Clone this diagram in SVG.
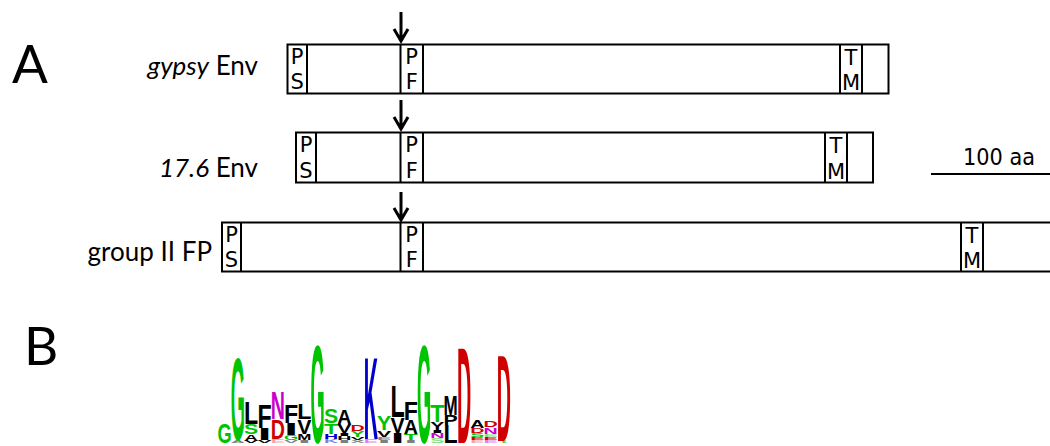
<svg xmlns="http://www.w3.org/2000/svg" width="1050" height="446" viewBox="0 0 1050 446">
  <style>
    .box { fill: #fff; stroke: #000; stroke-width: 2; }
    .div { stroke: #000; stroke-width: 2; fill: none; }
    .dom { font-family: "DejaVu Sans", Verdana, sans-serif; font-size: 21px; fill: #000; text-anchor: middle; }
    .lbl { font-family: Lato, "Liberation Sans", sans-serif; font-size: 26px; fill: #000; text-anchor: end; }
    .panel { font-family: Lato, "Liberation Sans", sans-serif; font-size: 53px; fill: #000; }
    .scale { font-family: "DejaVu Sans", Verdana, sans-serif; font-size: 23px; fill: #000; }
    .arrow { stroke: #000; stroke-width: 3; fill: none; stroke-linecap: butt; }
    .lg { font-family: "Liberation Sans", Arial, sans-serif; font-weight: bold; font-size: 10px; }
    .k { fill: #000; }
    .g { fill: #00c400; }
    .r { fill: #d00000; }
    .b { fill: #0000cc; }
    .m { fill: #cc00cc; }
    .p { fill: #d00000; opacity: 0.35; }
    .pg { fill: #00c400; opacity: 0.5; }
    .pb { fill: #0000cc; opacity: 0.5; }
    .pm { fill: #cc00cc; opacity: 0.5; }
    .pk { fill: #000; opacity: 0.5; }
  </style>

  <!-- panel letters -->
  <text class="panel" x="12" y="83">A</text>
  <text class="panel" x="24" y="365">B</text>

  <!-- gypsy Env -->
  <g id="gypsy-env">
    <text class="lbl" x="258" y="75"><tspan font-style="italic">gypsy</tspan> Env</text>
    <rect class="box" x="287.5" y="44.5" width="601" height="49"/>
    <path class="div" d="M307 44.5V93.5M400.5 44.5V93.5M423 44.5V93.5M840 44.5V93.5M862 44.5V93.5"/>
    <text class="dom" x="297.2" y="63.5">P</text><text class="dom" x="297.2" y="89">S</text>
    <text class="dom" x="411.7" y="63.5">P</text><text class="dom" x="411.7" y="89">F</text>
    <text class="dom" x="851" y="64.5">T</text><text class="dom" x="851" y="90">M</text>
  </g>

  <!-- 17.6 Env -->
  <g id="env-17-6">
    <text class="lbl" x="258" y="177"><tspan font-style="italic">17.6</tspan> Env</text>
    <rect class="box" x="296" y="132.5" width="577" height="50"/>
    <path class="div" d="M316 132.5V182.5M400.5 132.5V182.5M423 132.5V182.5M825 132.5V182.5M847 132.5V182.5"/>
    <text class="dom" x="306" y="152">P</text><text class="dom" x="306" y="177.5">S</text>
    <text class="dom" x="411.7" y="152">P</text><text class="dom" x="411.7" y="177.5">F</text>
    <text class="dom" x="836" y="153">T</text><text class="dom" x="836" y="178.5">M</text>
  </g>

  <!-- group II FP -->
  <g id="group-ii-fp">
    <text class="lbl" x="212" y="261">group II FP</text>
    <rect class="box" x="222" y="222.5" width="840" height="49"/>
    <path class="div" d="M241 222.5V271.5M400.5 222.5V271.5M423 222.5V271.5M961 222.5V271.5M983 222.5V271.5"/>
    <text class="dom" x="231.5" y="241.5">P</text><text class="dom" x="231.5" y="267">S</text>
    <text class="dom" x="411.7" y="241.5">P</text><text class="dom" x="411.7" y="267">F</text>
    <text class="dom" x="972" y="242.5">T</text><text class="dom" x="972" y="268">M</text>
  </g>

  <!-- scale bar -->
  <g id="scale-bar">
    <text class="scale" x="963" y="165" textLength="72" lengthAdjust="spacingAndGlyphs">100 aa</text>
    <line class="div" x1="931" y1="174" x2="1050" y2="174"/>
  </g>

  <!-- cleavage-site pointers -->
  <g id="connectors">
    <path class="arrow" d="M401 12V41M394 29L401 41L408 29"/>
    <path class="arrow" d="M401 100V129M394 117L401 129L408 117"/>
    <path class="arrow" d="M401 192V220M394 208L401 220L408 208"/>
  </g>

  <!-- sequence logo: stacked letters, each scaled to its share of the column -->
  <g id="logo" class="lg" transform="translate(-0.8 0)">
    <!-- col 1 -->
    <text class="g" textLength="14.2" lengthAdjust="spacingAndGlyphs" transform="translate(218.3,443) scale(1,2.793)">G</text>
    <!-- col 2 -->
    <text class="pk" textLength="14.2" lengthAdjust="spacingAndGlyphs" transform="translate(231.6,443) scale(1,0.419)">A</text>
    <text class="g" textLength="14.2" lengthAdjust="spacingAndGlyphs" transform="translate(231.6,440) scale(1,11.592)">G</text>
    <!-- col 3 -->
    <text class="k" textLength="14.2" lengthAdjust="spacingAndGlyphs" transform="translate(244.9,443) scale(1,0.279)">V</text>
    <text class="k" textLength="14.2" lengthAdjust="spacingAndGlyphs" transform="translate(244.9,441) scale(1,0.978)">A</text>
    <text class="g" textLength="14.2" lengthAdjust="spacingAndGlyphs" transform="translate(244.9,434) scale(1,1.397)">S</text>
    <text class="k" textLength="14.2" lengthAdjust="spacingAndGlyphs" transform="translate(244.9,424) scale(1,3.073)">L</text>
    <!-- col 4 -->
    <text class="k" textLength="14.2" lengthAdjust="spacingAndGlyphs" transform="translate(258.2,443) scale(1,0.419)">V</text>
    <text class="k" textLength="14.2" lengthAdjust="spacingAndGlyphs" transform="translate(258.2,440) scale(1,1.676)">I</text>
    <text class="k" textLength="14.2" lengthAdjust="spacingAndGlyphs" transform="translate(258.2,428) scale(1,3.352)">F</text>
    <!-- col 5 -->
    <text class="p" textLength="14.2" lengthAdjust="spacingAndGlyphs" transform="translate(271.5,443) scale(1,0.559)">E</text>
    <text class="r" textLength="14.2" lengthAdjust="spacingAndGlyphs" transform="translate(271.5,439) scale(1,2.793)">D</text>
    <text class="m" textLength="14.2" lengthAdjust="spacingAndGlyphs" transform="translate(271.5,419) scale(1,3.911)">N</text>
    <!-- col 6 -->
    <text class="pk" textLength="14.2" lengthAdjust="spacingAndGlyphs" transform="translate(284.8,443) scale(1,0.419)">V</text>
    <text class="g" textLength="14.2" lengthAdjust="spacingAndGlyphs" transform="translate(284.8,440) scale(1,0.698)">G</text>
    <text class="k" textLength="14.2" lengthAdjust="spacingAndGlyphs" transform="translate(284.8,435) scale(1,1.676)">I</text>
    <text class="k" textLength="14.2" lengthAdjust="spacingAndGlyphs" transform="translate(284.8,423) scale(1,2.514)">F</text>
    <!-- col 7 -->
    <text class="pk" textLength="14.2" lengthAdjust="spacingAndGlyphs" transform="translate(298.1,443) scale(1,0.419)">I</text>
    <text class="k" textLength="14.2" lengthAdjust="spacingAndGlyphs" transform="translate(298.1,440) scale(1,0.838)">M</text>
    <text class="k" textLength="14.2" lengthAdjust="spacingAndGlyphs" transform="translate(298.1,434) scale(1,2.095)">V</text>
    <text class="k" textLength="14.2" lengthAdjust="spacingAndGlyphs" transform="translate(298.1,419) scale(1,2.235)">L</text>
    <!-- col 8 -->
    <text class="g" textLength="14.2" lengthAdjust="spacingAndGlyphs" transform="translate(311.4,443) scale(1,13.966)">G</text>
    <!-- col 9 -->
    <text class="pb" textLength="14.2" lengthAdjust="spacingAndGlyphs" transform="translate(324.7,443) scale(1,0.559)">K</text>
    <text class="b" textLength="14.2" lengthAdjust="spacingAndGlyphs" transform="translate(324.7,439) scale(1,0.698)">H</text>
    <text class="g" textLength="14.2" lengthAdjust="spacingAndGlyphs" transform="translate(324.7,434) scale(1,1.536)">T</text>
    <text class="g" textLength="14.2" lengthAdjust="spacingAndGlyphs" transform="translate(324.7,423) scale(1,2.095)">S</text>
    <!-- col 10 -->
    <text class="pk" textLength="14.2" lengthAdjust="spacingAndGlyphs" transform="translate(338,443) scale(1,0.419)">I</text>
    <text class="k" textLength="14.2" lengthAdjust="spacingAndGlyphs" transform="translate(338,440) scale(1,0.559)">H</text>
    <text class="k" textLength="14.2" lengthAdjust="spacingAndGlyphs" transform="translate(338,436) scale(1,0.419)">I</text>
    <text class="k" textLength="14.2" lengthAdjust="spacingAndGlyphs" transform="translate(338,433) scale(1,1.257)">V</text>
    <text class="k" textLength="14.2" lengthAdjust="spacingAndGlyphs" transform="translate(338,424) scale(1,2.095)">A</text>
    <!-- col 11 -->
    <text class="pk" textLength="14.2" lengthAdjust="spacingAndGlyphs" transform="translate(351.3,443) scale(1,0.419)">X</text>
    <text class="k" textLength="14.2" lengthAdjust="spacingAndGlyphs" transform="translate(351.3,440) scale(1,0.419)">V</text>
    <text class="g" textLength="14.2" lengthAdjust="spacingAndGlyphs" transform="translate(351.3,437) scale(1,0.838)">Y</text>
    <text class="r" textLength="14.2" lengthAdjust="spacingAndGlyphs" transform="translate(351.3,431) scale(1,0.838)">D</text>
    <!-- col 12 -->
    <text class="pm" textLength="14.2" lengthAdjust="spacingAndGlyphs" transform="translate(364.6,443) scale(1,0.559)">E</text>
    <text class="b" textLength="14.2" lengthAdjust="spacingAndGlyphs" transform="translate(364.6,439) scale(1,11.732)">K</text>
    <!-- col 13 -->
    <text class="pk" textLength="14.2" lengthAdjust="spacingAndGlyphs" transform="translate(377.9,443) scale(1,0.419)">I</text>
    <text class="pk" textLength="14.2" lengthAdjust="spacingAndGlyphs" transform="translate(377.9,440) scale(1,0.419)">E</text>
    <text class="k" textLength="14.2" lengthAdjust="spacingAndGlyphs" transform="translate(377.9,437) scale(1,0.978)">V</text>
    <text class="g" textLength="14.2" lengthAdjust="spacingAndGlyphs" transform="translate(377.9,430) scale(1,2.095)">Y</text>
    <!-- col 14 -->
    <text class="k" textLength="14.2" lengthAdjust="spacingAndGlyphs" transform="translate(391.2,443) scale(1,1.397)">I</text>
    <text class="k" textLength="14.2" lengthAdjust="spacingAndGlyphs" transform="translate(391.2,433) scale(1,2.235)">V</text>
    <text class="k" textLength="14.2" lengthAdjust="spacingAndGlyphs" transform="translate(391.2,417) scale(1,4.469)">L</text>
    <!-- col 15 -->
    <text class="pk" textLength="14.2" lengthAdjust="spacingAndGlyphs" transform="translate(404.5,443) scale(1,0.419)">I</text>
    <text class="g" textLength="14.2" lengthAdjust="spacingAndGlyphs" transform="translate(404.5,440) scale(1,0.838)">T</text>
    <text class="k" textLength="14.2" lengthAdjust="spacingAndGlyphs" transform="translate(404.5,434) scale(1,1.955)">A</text>
    <text class="k" textLength="14.2" lengthAdjust="spacingAndGlyphs" transform="translate(404.5,420) scale(1,2.514)">F</text>
    <!-- col 16 -->
    <text class="g" textLength="14.2" lengthAdjust="spacingAndGlyphs" transform="translate(417.8,443) scale(1,13.966)">G</text>
    <!-- col 17 -->
    <text class="pg" textLength="14.2" lengthAdjust="spacingAndGlyphs" transform="translate(431.1,443) scale(1,0.698)">S</text>
    <text class="m" textLength="14.2" lengthAdjust="spacingAndGlyphs" transform="translate(431.1,438) scale(1,0.698)">N</text>
    <text class="k" textLength="14.2" lengthAdjust="spacingAndGlyphs" transform="translate(431.1,433) scale(1,0.419)">I</text>
    <text class="k" textLength="14.2" lengthAdjust="spacingAndGlyphs" transform="translate(431.1,430) scale(1,1.117)">Y</text>
    <text class="g" textLength="14.2" lengthAdjust="spacingAndGlyphs" transform="translate(431.1,422) scale(1,2.374)">T</text>
    <!-- col 18 -->
    <text class="k" textLength="14.2" lengthAdjust="spacingAndGlyphs" transform="translate(444.4,443) scale(1,2.514)">L</text>
    <text class="k" textLength="14.2" lengthAdjust="spacingAndGlyphs" transform="translate(444.4,425) scale(1,1.397)">P</text>
    <text class="k" textLength="14.2" lengthAdjust="spacingAndGlyphs" transform="translate(444.4,415) scale(1,2.793)">M</text>
    <!-- col 19 -->
    <text class="r" textLength="14.2" lengthAdjust="spacingAndGlyphs" transform="translate(457.7,443) scale(1,13.687)">D</text>
    <!-- col 20 -->
    <text class="p" textLength="14.2" lengthAdjust="spacingAndGlyphs" transform="translate(471,443) scale(1,0.419)">E</text>
    <text class="r" textLength="14.2" lengthAdjust="spacingAndGlyphs" transform="translate(471,440) scale(1,0.419)">E</text>
    <text class="g" textLength="14.2" lengthAdjust="spacingAndGlyphs" transform="translate(471,437) scale(1,0.559)">S</text>
    <text class="r" textLength="14.2" lengthAdjust="spacingAndGlyphs" transform="translate(471,433) scale(1,0.698)">D</text>
    <text class="k" textLength="14.2" lengthAdjust="spacingAndGlyphs" transform="translate(471,428) scale(1,1.117)">A</text>
    <!-- col 21 -->
    <text class="pm" textLength="14.2" lengthAdjust="spacingAndGlyphs" transform="translate(484.3,443) scale(1,0.419)">E</text>
    <text class="r" textLength="14.2" lengthAdjust="spacingAndGlyphs" transform="translate(484.3,440) scale(1,0.419)">E</text>
    <text class="pg" textLength="14.2" lengthAdjust="spacingAndGlyphs" transform="translate(484.3,437) scale(1,0.419)">E</text>
    <text class="m" textLength="14.2" lengthAdjust="spacingAndGlyphs" transform="translate(484.3,434) scale(1,0.978)">N</text>
    <text class="r" textLength="14.2" lengthAdjust="spacingAndGlyphs" transform="translate(484.3,427) scale(1,0.978)">D</text>
    <!-- col 22 -->
    <text class="g" textLength="4" lengthAdjust="spacingAndGlyphs" transform="translate(503,443) scale(1,0.279)">E</text>
    <text class="r" textLength="14.2" lengthAdjust="spacingAndGlyphs" transform="translate(497.6,441) scale(1,12.29)">D</text>
  </g>
</svg>
